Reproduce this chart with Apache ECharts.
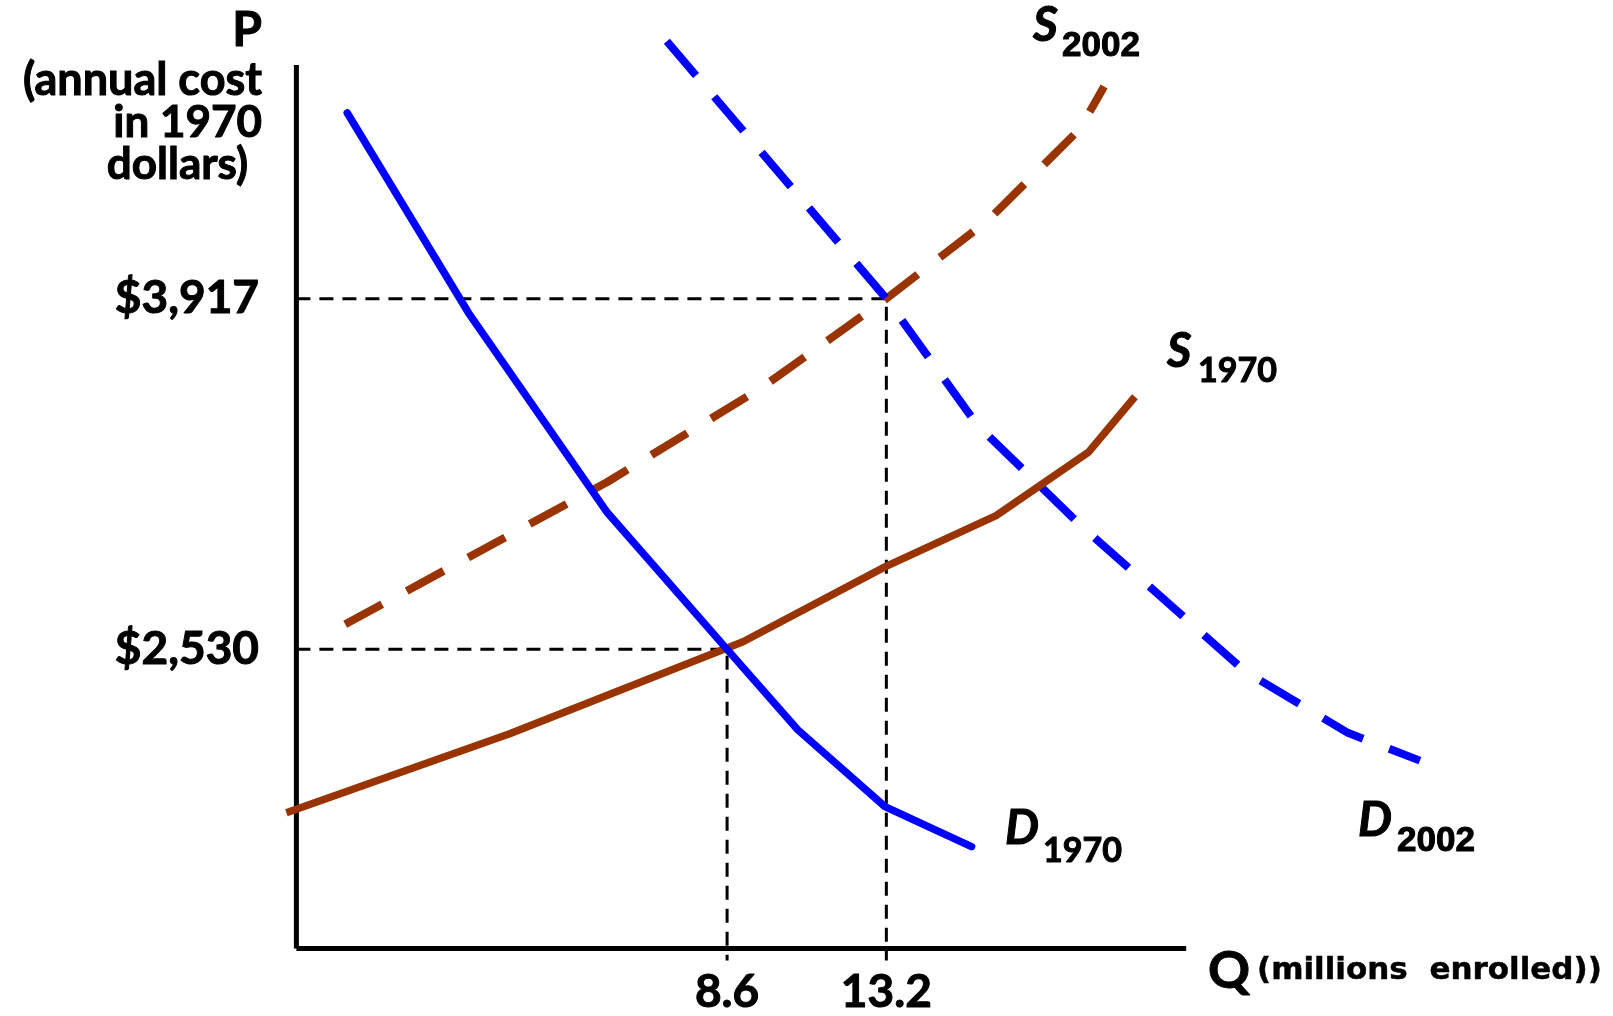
<!DOCTYPE html>
<html>
<head>
<meta charset="utf-8">
<script src="https://cdn.jsdelivr.net/npm/echarts@6/dist/echarts.min.js"></script>
<style>
html,body{margin:0;padding:0;background:#fff;}
#c{width:1613px;height:1016px;}
</style>
</head>
<body>
<div id="c"></div>
<script>
// Axis ranges (millions enrolled, 1970 dollars)
const xMin = -4.4, xMax = 30;          // scale extent (curves overflow the drawn axis)
const axisX0 = -3.84, axisX1 = 21.86;  // where the drawn axes start / end
const yMin = 1347, yMax = 4841;
const xTicks = [8.6, 13.2];
const yTicks = [2530, 3917];

// Curves [Q, P]
const d1970 = [[-2.37,4651],[1.13,3861],[5.14,3071],[8.6,2530],[10.64,2212],[13.16,1908],[15.66,1750]];
const s1970 = [[-4.13,1884],[2.32,2196],[9.06,2560],[13.16,2856],[16.37,3059],[19.04,3310],[20.38,3529]];
const s2002 = [[-2.43,2629],[5.14,3192],[9.6,3565],[13.2,3917],[16.13,4226],[18.8,4590],[19.49,4756]];
const d2002 = [[6.86,4935],[13.2,3917],[15.84,3415],[18.8,3022],[23.56,2443],[26.53,2200],[28.61,2090]];

// Equilibrium points
const eq1970 = [8.6, 2530];
const eq2002 = [13.2, 3917];
const guideBottom = 1300;

function fmtMoney(v){
  return '$' + String(v).replace(/\B(?=(\d{3})+(?!\d))/g, ',');
}
function guide(p){
  return [[axisX0, p[1]], [p[0], p[1]], [p[0], guideBottom]];
}

const BLUE = '#0000FF';
const BROWN = '#993300';
const F = 'Lato, "Open Sans", sans-serif';

function txt(text, x, y, font, align, sw){
  return {type: 'text', silent: true, style: {
    text: text, x: x, y: y, align: align || 'left', verticalAlign: 'middle',
    font: font, fill: '#000', stroke: '#000', lineWidth: sw === undefined ? 1 : sw
  }};
}

const chart = echarts.init(document.getElementById('c'));
chart.setOption({
  animation: false,
  backgroundColor: '#fff',
  grid: {left: 277, right: 145, top: 65, bottom: 64, containLabel: false},
  xAxis: {
    type: 'value', min: xMin, max: xMax,
    axisLine: {show: false},
    axisTick: {show: false},
    splitLine: {show: false},
    axisLabel: {
      customValues: xTicks,
      formatter: v => String(v),
      fontFamily: F, fontWeight: 'bold', fontSize: 46, color: '#000', margin: 21,
      textBorderColor: '#000', textBorderWidth: 1
    }
  },
  yAxis: {
    type: 'value', min: yMin, max: yMax,
    axisLine: {show: false},
    axisTick: {show: false},
    splitLine: {show: false},
    axisLabel: {
      customValues: yTicks,
      formatter: v => fmtMoney(v),
      fontFamily: F, fontWeight: 'bold', fontSize: 46, color: '#000', margin: 18,
      padding: [0, 0, 18, 0],
      textBorderColor: '#000', textBorderWidth: 1
    }
  },
  series: [
    {type: 'line', data: guide(eq2002), symbol: 'none', clip: false, silent: true,
     lineStyle: {color: '#000', width: 3, type: [14, 9]}},
    {type: 'line', data: guide(eq1970), symbol: 'none', clip: false, silent: true,
     lineStyle: {color: '#000', width: 3, type: [14, 9]}},
    // drawn axes
    {type: 'line', data: [[axisX0, yMin], [axisX0, yMax]], symbol: 'none', clip: false, silent: true,
     lineStyle: {color: '#000', width: 5}},
    {type: 'line', data: [[axisX0, yMin], [axisX1, yMin]], symbol: 'none', clip: false, silent: true,
     lineStyle: {color: '#000', width: 5}},
    {name: 'S2002', type: 'line', data: s2002, symbol: 'none', clip: false,
     lineStyle: {color: BROWN, width: 8, type: [42, 28]}},
    {name: 'D2002', type: 'line', data: d2002, symbol: 'none', clip: false,
     lineStyle: {color: BLUE, width: 8, type: [45, 28]}},
    {name: 'S1970', type: 'line', data: s1970, symbol: 'none', clip: false,
     lineStyle: {color: BROWN, width: 7.5}},
    {name: 'D1970', type: 'line', data: d1970, symbol: 'none', clip: false,
     lineStyle: {color: BLUE, width: 7.5, cap: 'round'}}
  ],
  graphic: [
    txt('P', 262, 31, 'bold 48px ' + F, 'right'),
    txt('(annual cost', 262, 80, 'bold 45px ' + F, 'right'),
    txt('in 1970', 262, 123, 'bold 44px ' + F, 'right'),
    txt('dollars)', 248, 165, 'bold 44px ' + F, 'right'),
    txt('Q', 1208, 971, 'bold 52px ' + F),
    txt('(millions  enrolled))', 1257, 971, 'bold 31px "DejaVu Sans", sans-serif', 'left', 0.5),

    txt('S', 1033, 26, 'italic bold 48px ' + F),
    txt('2002', 1062, 46, 'bold 35px "Liberation Sans", Arial, sans-serif'),
    txt('S', 1167, 352, 'italic bold 47px ' + F),
    txt('1970', 1198, 371, 'bold 34px ' + F),
    txt('D', 1005, 829, 'italic bold 48px ' + F),
    txt('1970', 1043, 851, 'bold 34px ' + F),
    txt('D', 1358, 821, 'italic bold 48px ' + F),
    txt('2002', 1397, 841, 'bold 35px "Liberation Sans", Arial, sans-serif')
  ]
});
</script>
</body>
</html>
